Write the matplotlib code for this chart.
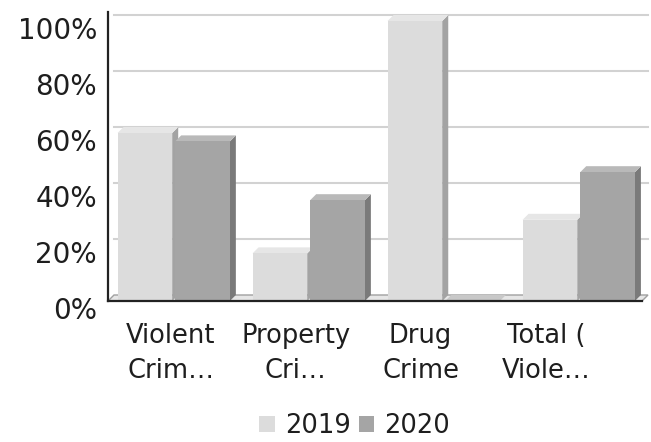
import matplotlib.pyplot as plt
from matplotlib.patches import Polygon, Patch
from matplotlib.transforms import ScaledTranslation

# data
categories = ["Violent\nCrim…", "Property\nCri…", "Drug\nCrime", "Total (\nViole…"]
years = ["2019", "2020"]
values_2019 = [60, 17, 100, 29]
values_2020 = [57, 36, 0, 46]

# colours: front, top, side
colors = {
    "2019": ("#dcdcdc", "#e6e6e6", "#a3a3a3"),
    "2020": ("#a5a5a5", "#b9b9b9", "#7a7a7a"),
}
text_color = "#1e1e1e"

fig = plt.figure(figsize=(6.51, 4.42), dpi=100)
ax = fig.add_axes([108 / 651, 141 / 442, 534 / 651, 289 / 442])

ymax = 289 / 280 * 100
ax.set_ylim(0, ymax)
ax.set_xlim(-0.485, 3.47)

# depth of the fake 3d effect in data units
dx = 6 / 135
dy = 6 / 2.8

# back-plane gridlines
for v in range(20, 101, 20):
    ax.plot([-0.485 + dx, 3.47 + dx], [v + dy, v + dy], color="#d2d2d2",
            lw=1.5, zorder=1, clip_on=False)

# floor
ax.add_patch(Polygon([(-0.485, 0), (3.47, 0), (3.47 + dx, dy), (-0.485 + dx, dy)],
                     closed=True, facecolor="#e6e6e6", edgecolor="#a0a0a0",
                     lw=1.0, zorder=1.5, clip_on=False))

width = 0.405
offsets = [-0.212, 0.215]
for year, vals, off in zip(years, [values_2019, values_2020], offsets):
    front, top, side = colors[year]
    for i, v in enumerate(vals):
        x0 = i + off - width / 2
        x1 = x0 + width
        z = 3 if year == "2019" else 4
        top_c = top if v > 0 else "#c8c8c8"
        # side face
        ax.add_patch(Polygon([(x1, 0), (x1 + dx, dy), (x1 + dx, v + dy), (x1, v)],
                             closed=True, facecolor=side, edgecolor="none", zorder=z))
        # top face
        ax.add_patch(Polygon([(x0, v), (x0 + dx, v + dy), (x1 + dx, v + dy), (x1, v)],
                             closed=True, facecolor=top_c, edgecolor="none", zorder=z))
        # front face
        if v > 0:
            ax.bar(x0, v, width=width, align="edge", color=front, zorder=z)

# axes lines
for s in ["top", "right"]:
    ax.spines[s].set_visible(False)
ax.spines["left"].set_color("#222222")
ax.spines["left"].set_linewidth(1.6)
ax.spines["bottom"].set_color("#222222")
ax.spines["bottom"].set_linewidth(1.6)
ax.spines["bottom"].set_zorder(6)

ax.set_yticks(range(0, 101, 20))
ax.set_yticklabels([f"{v}%" for v in range(0, 101, 20)], fontsize=20, color=text_color)
ax.tick_params(axis="y", length=0, pad=8)
shift = ScaledTranslation(0, -0.07, fig.dpi_scale_trans)
for lab in ax.get_yticklabels():
    lab.set_transform(lab.get_transform() + shift)

tick_pos = [-0.02, 0.905, 1.83, 2.76]
ax.set_xticks(tick_pos)
ax.set_xticklabels(categories, fontsize=18.5, color=text_color, linespacing=1.45)
ax.tick_params(axis="x", length=0, pad=16)

handles = [Patch(facecolor=colors[y][0], edgecolor="none", label=y) for y in years]
fig.legend(handles=handles, loc="center", bbox_to_anchor=(0.545, 0.036), ncol=2,
           frameon=False, fontsize=18.5, handlelength=0.6, handleheight=0.6,
           handletextpad=0.4, columnspacing=0.3, labelcolor=text_color)

fig.savefig("out.png", dpi=100)
